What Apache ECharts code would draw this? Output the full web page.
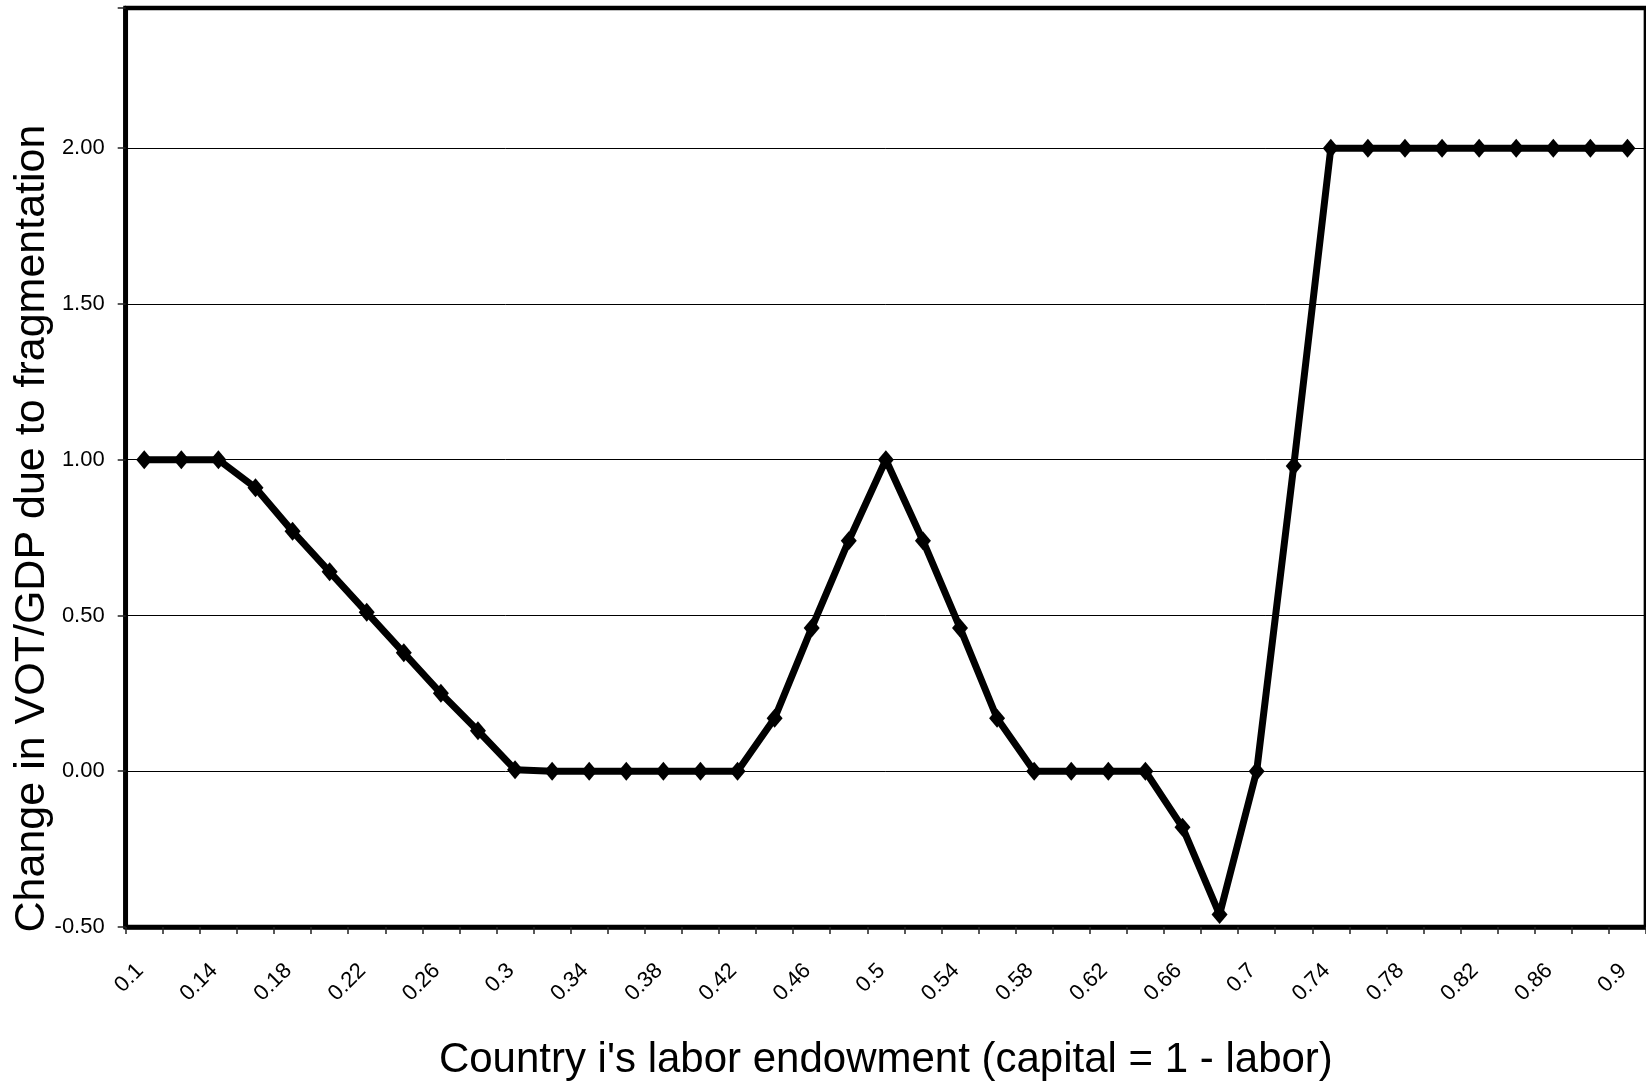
<!DOCTYPE html>
<html>
<head>
<meta charset="utf-8">
<script src="https://cdn.jsdelivr.net/npm/echarts@6/dist/echarts.min.js"></script>
<style>
html, body { margin: 0; padding: 0; background: #fff; overflow: hidden; }
#chart { width: 1646px; height: 1086px; }
</style>
</head>
<body>
<div id="chart"></div>
<script>
const categories = ['0.1','0.12','0.14','0.16','0.18','0.2','0.22','0.24','0.26','0.28',
  '0.3','0.32','0.34','0.36','0.38','0.4','0.42','0.44','0.46','0.48',
  '0.5','0.52','0.54','0.56','0.58','0.6','0.62','0.64','0.66','0.68',
  '0.7','0.72','0.74','0.76','0.78','0.8','0.82','0.84','0.86','0.88','0.9'];
const values = [1.00, 1.00, 1.00, 0.91, 0.77, 0.64, 0.51, 0.38, 0.25, 0.13,
  0.005, 0, 0, 0, 0, 0, 0, 0.17, 0.46, 0.74,
  1.00, 0.74, 0.46, 0.17, 0, 0, 0, 0, -0.18, -0.46,
  0, 0.98, 2.00, 2.00, 2.00, 2.00, 2.00, 2.00, 2.00, 2.00, 2.00];
const yTicks = [-0.5, 0, 0.5, 1.0, 1.5, 2.0];
const xTitle = "Country i's labor endowment (capital = 1 - labor)";
const yTitle = "Change in VOT/GDP due to fragmentation";

const font = "'Liberation Sans', Arial, sans-serif";
const chart = echarts.init(document.getElementById('chart'));
chart.setOption({
  animation: false,
  backgroundColor: '#fff',
  grid: {
    left: 125.7, right: -5, top: 8, bottom: 153.3,
    show: true, borderColor: '#000', borderWidth: 4.7, backgroundColor: 'transparent'
  },
  xAxis: {
    type: 'category',
    data: categories,
    boundaryGap: true,
    name: xTitle,
    nameLocation: 'middle',
    nameGap: 112,
    nameTextStyle: { fontFamily: font, fontSize: 42, color: '#000' },
    axisLine: { onZero: false, lineStyle: { color: '#000', width: 4.7 } },
    axisTick: { show: true, interval: 0, length: 7, lineStyle: { color: '#222', width: 1.5 } },
    axisLabel: {
      interval: 1, rotate: 45, margin: 36, padding: [0, 6, 0, 0],
      fontFamily: font, fontSize: 22, color: '#000'
    },
    splitLine: { show: false }
  },
  yAxis: {
    type: 'value',
    min: -0.5, max: 2.45, interval: 0.5,
    axisLine: { show: true, lineStyle: { color: '#000', width: 4.7 } },
    axisTick: { show: true, length: 8, lineStyle: { color: '#222', width: 1.5 } },
    axisLabel: {
      margin: 21, fontFamily: font, fontSize: 22, color: '#000',
      formatter: function (v) {
        for (const t of yTicks) { if (Math.abs(v - t) < 1e-6) return v.toFixed(2); }
        return '';
      }
    },
    splitLine: { show: true, lineStyle: { color: '#000', width: 1 } }
  },
  graphic: [{
    type: 'text',
    x: 32, y: 528.5,
    rotation: Math.PI / 2,
    style: {
      text: yTitle,
      x: 0, y: 0,
      font: "43px 'Liberation Sans', Arial, sans-serif",
      fill: '#000',
      align: 'center', verticalAlign: 'middle',
      textAlign: 'center', textVerticalAlign: 'middle'
    }
  }],
  series: [{
    type: 'line',
    data: values,
    symbol: 'diamond',
    symbolSize: [16, 19],
    showAllSymbol: true,
    clip: false,
    lineStyle: { color: '#000', width: 7 },
    itemStyle: { color: '#000' }
  }]
});
</script>
</body>
</html>
